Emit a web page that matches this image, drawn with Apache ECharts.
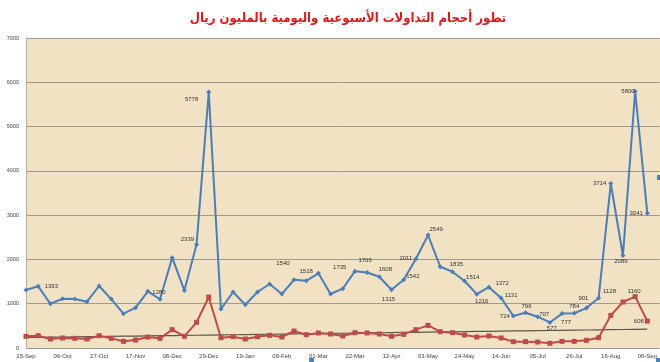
<!DOCTYPE html>
<html><head><meta charset="utf-8">
<script src="https://cdn.jsdelivr.net/npm/echarts@6/dist/echarts.min.js"></script>
<style>html,body{margin:0;padding:0;background:#fff}#c{width:660px;height:362px}</style>
</head><body><div id="c"></div>
<script>
const titleText = 'تطور أحجام التداولات الأسبوعية واليومية بالمليون ريال';
const categories = ['15-Sep','22-Sep','29-Sep','06-Oct','13-Oct','20-Oct','27-Oct','03-Nov','10-Nov','17-Nov','24-Nov','01-Dec','08-Dec','15-Dec','22-Dec','29-Dec','05-Jan','12-Jan','19-Jan','26-Jan','02-Feb','09-Feb','16-Feb','23-Feb','01-Mar','08-Mar','15-Mar','22-Mar','29-Mar','05-Apr','12-Apr','19-Apr','26-Apr','03-May','10-May','17-May','24-May','31-May','07-Jun','14-Jun','21-Jun','28-Jun','05-Jul','12-Jul','19-Jul','26-Jul','02-Aug','09-Aug','16-Aug','23-Aug','30-Aug','06-Sep'];
const weekly = [1309,1393,1000,1113,1105,1045,1400,1105,775,910,1280,1100,2040,1300,2339,5778,880,1264,977,1264,1445,1219,1540,1518,1686,1219,1339,1735,1705,1608,1315,1542,2011,2549,1835,1723,1514,1216,1372,1131,724,796,707,577,777,784,901,1128,3714,2089,5800,3041];
const daily = [264,278,203,226,218,203,278,218,150,180,248,218,414,264,580,1151,233,256,203,256,286,248,384,301,339,316,271,346,339,316,264,308,414,510,368,346,293,248,271,226,143,143,135,105,150,150,173,233,737,1038,1160,608];
const yTicks = [0,1000,2000,3000,4000,5000,6000,7000];
const weeklyLabelled = [1,10,14,15,22,23,27,28,29,30,31,32,33,34,36,37,38,39,40,41,42,43,44,45,46,47,48,49,50,51];
const dailyLabelled = [50,51];

// label placement (style only)
const wPos = {1:['right',[0,0]],10:['right',[-2,1]],14:['left',[4,-5]],15:['left',[-4,7]],22:['top',[-11,-7]],23:['top',[0,0]],27:['left',[-2,-4]],28:['top',[-2,-3]],29:['top',[6,2]],30:['bottom',[-3,0]],31:['right',[-4,-3]],32:['left',[3,-1]],33:['right',[-5,-6]],34:['right',[3,-2]],36:['right',[-5,-4]],37:['bottom',[5,-2]],38:['right',[0,-4]],39:['right',[-3,-3]],40:['left',[3,0]],41:['top',[1,3]],42:['right',[-5,-2]],43:['bottom',[2,-4]],44:['bottom',[4,-1]],45:['top',[0,3]],46:['top',[-3,0]],47:['right',[-2,-7]],48:['left',[2,0]],49:['bottom',[-2,-4]],50:['left',[6,0]],51:['left',[2,0]]};
const dPos = {50:['top',[-1,4]],51:['left',[3,0]]};

// linear trend of daily series (least squares)
const n = daily.length;
let sx=0, sy=0, sxy=0, sxx=0;
daily.forEach((v,i)=>{sx+=i;sy+=v;sxy+=i*v;sxx+=i*i;});
const slope = (n*sxy - sx*sy)/(n*sxx - sx*sx);
const icpt = (sy - slope*sx)/n;
const trend = daily.map((v,i)=> icpt + slope*i);

const lblStyle = {fontSize:6, color:'#333', fontFamily:'Liberation Sans', distance:4};
function mk(values, labelled, pos){
  return values.map((v,i)=>{
    if(labelled.indexOf(i) < 0) return v;
    const p = pos[i];
    return {value:v, label:Object.assign({show:true, position:p[0], offset:p[1]}, lblStyle)};
  });
}

const chart = echarts.init(document.getElementById('c'), null, {renderer:'canvas'});
chart.setOption({
  animation:false,
  backgroundColor:'#ffffff',
  title:{text:titleText, left:343, top:7, textAlign:'center',
    textStyle:{color:'#E01818', fontSize:13, fontWeight:'bold', fontFamily:'DejaVu Sans Condensed, DejaVu Sans'}},
  graphic:[
    {type:'rect', shape:{x:26,y:38,width:634,height:310}, style:{fill:'#F1E2C4'}, z:-10, silent:true},
    {type:'rect', shape:{x:657,y:175,width:4,height:5}, style:{fill:'#4F81BD'}, z:10},
    {type:'rect', shape:{x:309,y:358,width:5,height:4}, style:{fill:'#4F81BD'}, z:10},
    {type:'rect', shape:{x:656,y:358,width:5,height:4}, style:{fill:'#4F81BD'}, z:10}
  ],
  grid:{left:26, right:0, top:38, bottom:14, containLabel:false},
  xAxis:{type:'category', data:categories, boundaryGap:false, max:52,
    axisLine:{show:false}, axisTick:{show:false},
    axisLabel:{interval:2, fontSize:6, color:'#404040', fontFamily:'Liberation Sans', margin:5},
    splitLine:{show:false}},
  yAxis:{type:'value', min:yTicks[0], max:yTicks[yTicks.length-1], interval:1000,
    axisLine:{show:true, lineStyle:{color:'#B8B0A0', width:1}}, axisTick:{show:false},
    axisLabel:{fontSize:5.5, color:'#404040', fontFamily:'Liberation Sans', margin:7, formatter:v=>String(v)},
    splitLine:{show:true, lineStyle:{color:'#9E9A92', width:1}}},
  series:[
    {name:'trend', type:'line', data:trend, symbol:'none', z:1,
      lineStyle:{color:'#5A5650', width:1.2}},
    {name:'weekly', type:'line', data:mk(weekly, weeklyLabelled, wPos), z:3,
      symbol:'diamond', symbolSize:5, itemStyle:{color:'#4A7EBB'},
      lineStyle:{color:'#4A7EBB', width:2}},
    {name:'daily', type:'line', data:mk(daily, dailyLabelled, dPos), z:2,
      symbol:'rect', symbolSize:5, itemStyle:{color:'#BE4B48'},
      lineStyle:{color:'#BE4B48', width:2}}
  ]
});
</script></body></html>
